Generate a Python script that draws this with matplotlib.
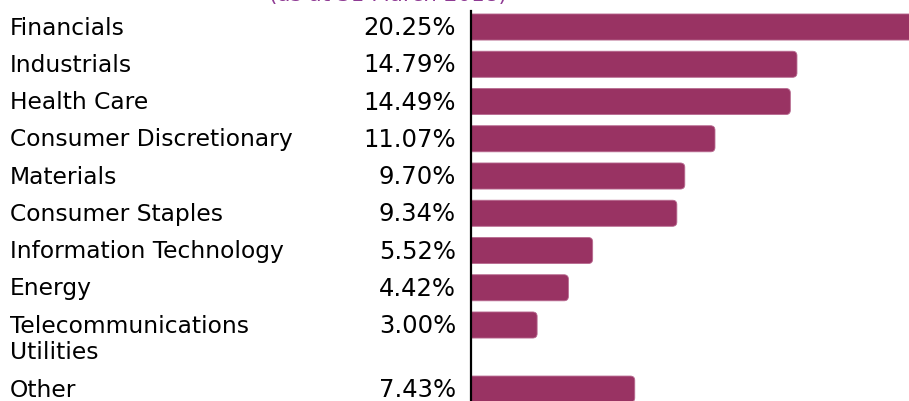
import matplotlib.pyplot as plt
import numpy as np
from matplotlib.patches import FancyBboxPatch

sectors = ["Financials", "Industrials", "Health Care", "Consumer Discretionary",
           "Materials", "Consumer Staples", "Information Technology", "Energy",
           "Telecommunications\nUtilities", "Other"]
weights = [20.25, 14.79, 14.49, 11.07, 9.70, 9.34, 5.52, 4.42, 3.00, 7.43]
subtitle = "(as at 31 March 2018)"

bar_colour = "#993363"
plt.rcParams['font.family'] = ['DejaVu Sans']

W, H = 909, 402
fig = plt.figure(figsize=(W / 100, H / 100), dpi=100)
ax = fig.add_axes([471 / W, 0, 1 - 471 / W, 1 - 12 / H])

# rows are evenly spaced except the last one, which sits below the two-line label
ypos = np.arange(len(sectors), dtype=float)
ypos[-1] = 9.72
bar_h = 0.7
x_max = 438 / 22.04

# px per data unit, used to keep the corner radius round
px_x = (W - 471) / x_max
px_y = (H - 12) / 10.47

for y, w in zip(ypos, weights):
    box = FancyBboxPatch((-1, y - bar_h / 2), w + 1, bar_h,
                         boxstyle="round,pad=0,rounding_size=0.2",
                         mutation_aspect=px_x / px_y,
                         facecolor=bar_colour, edgecolor="#b86a90", linewidth=0.6)
    ax.add_patch(box)

ax.set_xlim(0, x_max)
ax.set_ylim(10.04, -0.43)
ax.set_xticks([])
ax.set_yticks([])
for side in ["top", "right", "bottom"]:
    ax.spines[side].set_visible(False)
ax.spines["left"].set_linewidth(1.6)
ax.spines["left"].set_color("black")

label_x = -461 / px_x
for y, name, w in zip(ypos, sectors, weights):
    for k, line in enumerate(name.split("\n")):
        ax.text(label_x, y + k * 26 / px_y, line, ha="left", va="center",
                fontsize=16.8, clip_on=False)
    ax.text(-15 / px_x, y, f"{w:.2f}%", ha="right", va="center",
            fontsize=17.5, clip_on=False)

fig.text(388 / W, 1 - 0.5 / H, subtitle, ha="center", va="baseline",
         fontsize=15.5, color="#8e3a93")

fig.savefig("out.png", dpi=100)
